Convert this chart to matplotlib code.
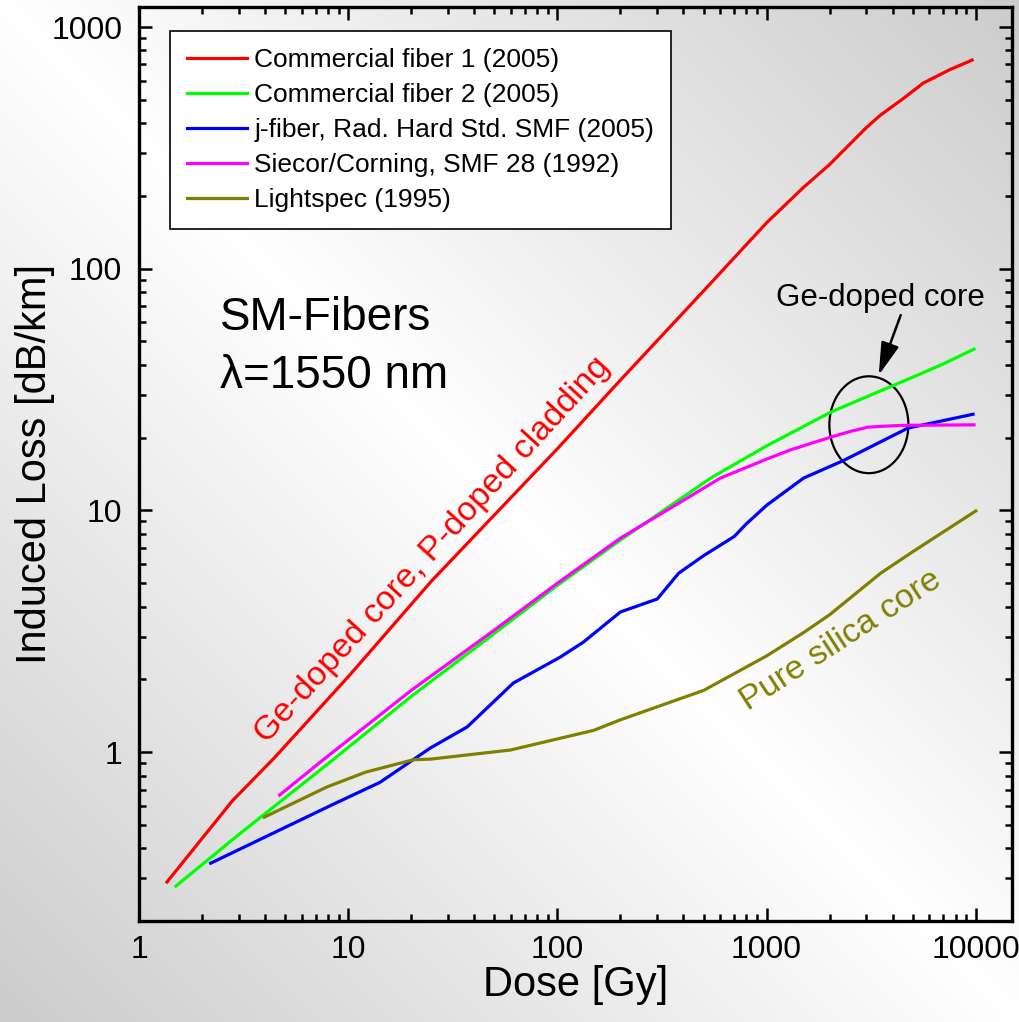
import numpy as np
import matplotlib
matplotlib.use('Agg')
import matplotlib.pyplot as plt
from matplotlib.patches import Ellipse
from matplotlib.ticker import LogLocator, NullFormatter

plt.rcParams['font.family'] = ['Liberation Sans', 'DejaVu Sans']

# data (dose in Gy, induced loss in dB/km)
red_x = [1.36, 2.8, 4.4, 10, 25, 100, 200, 500, 1000, 1500, 2000, 3000, 3500, 4500, 5600, 7500, 9600]
red_y = [0.29, 0.63, 0.94, 2.05, 5.1, 18, 34.6, 81, 155, 217, 270, 384, 432, 506, 586, 666, 730]

green_x = [1.5, 3, 8.2, 20, 50, 100, 200, 540, 1000, 2025, 3000, 5000, 7000, 9800]
green_y = [0.279, 0.456, 0.91, 1.7, 3.1, 4.9, 7.54, 13.6, 18.5, 25.5, 29.5, 35.6, 40.4, 46.5]

blue_x = [2.2, 8.2, 14.2, 24.7, 37, 61.5, 103, 133, 200, 300, 380, 500, 700, 800, 1000, 1500, 2335, 4730, 9700]
blue_y = [0.347, 0.6, 0.75, 1.04, 1.27, 1.93, 2.47, 2.85, 3.8, 4.3, 5.5, 6.5, 7.8, 8.8, 10.5, 13.6, 16.1, 21.9, 25]

magenta_x = [4.7, 7.6, 20, 50, 100, 200, 400, 600, 1000, 1300, 2025, 2500, 3040, 4000, 4730, 9800]
magenta_y = [0.664, 0.93, 1.8, 3.2, 5.0, 7.68, 11.0, 13.6, 16.3, 17.8, 20.1, 21.2, 22.1, 22.4, 22.5, 22.6]

olive_x = [3.97, 7.9, 12.1, 20.5, 24.7, 59.6, 149, 200, 500, 1000, 1500, 2000, 3510, 5000, 7000, 10000]
olive_y = [0.538, 0.717, 0.826, 0.93, 0.935, 1.02, 1.23, 1.36, 1.8, 2.5, 3.12, 3.7, 5.5, 6.75, 8.15, 9.95]

labels = ['Commercial fiber 1 (2005)', 'Commercial fiber 2 (2005)',
          'j-fiber, Rad. Hard Std. SMF (2005)', 'Siecor/Corning, SMF 28 (1992)',
          'Lightspec (1995)']
colors = ['#ff0000', '#00ff00', '#0000ff', '#ff00ff', '#808000']

fig = plt.figure(figsize=(10.2, 10.22), dpi=100)

# grey background, light along the main diagonal
W, H = 1020, 1022
xx, yy = np.meshgrid(np.arange(W), np.arange(H))
d = np.abs(xx - yy) / 1020.0
bg = 1 - 0.2 * d
fig.figimage(np.dstack([bg, bg, bg]), xo=0, yo=0, origin='upper', zorder=-10)

ax = fig.add_axes([0.1363, 0.0988, 0.8559, 0.8943])
ax.set_facecolor('none')

series = [(red_x, red_y), (green_x, green_y), (blue_x, blue_y), (magenta_x, magenta_y), (olive_x, olive_y)]
for (x, y), lab, c in zip(series, labels, colors):
    ax.plot(x, y, color=c, lw=2.3, label=lab, solid_joinstyle='round')

ax.set_xscale('log')
ax.set_yscale('log')
ax.set_xlim(1, 14900)
ax.set_ylim(0.2, 1210)

ax.set_xticks([1, 10, 100, 1000, 10000])
ax.set_xticklabels(['1', '10', '100', '1000', '10000'])
ax.set_yticks([1, 10, 100, 1000])
ax.set_yticklabels(['1', '10', '100', '1000'])
ax.xaxis.set_minor_locator(LogLocator(base=10, subs=np.arange(2, 10)))
ax.yaxis.set_minor_locator(LogLocator(base=10, subs=np.arange(2, 10)))
ax.xaxis.set_minor_formatter(NullFormatter())
ax.yaxis.set_minor_formatter(NullFormatter())
ax.tick_params(which='both', direction='in', top=True, right=True, width=1.8)
ax.tick_params(which='major', length=9.5, labelsize=23, pad=10)
ax.tick_params(which='minor', length=5)
ax.tick_params(axis='y', which='major', pad=12)
for s in ax.spines.values():
    s.set_linewidth(2.4)

ax.set_xlabel('Dose [Gy]', fontsize=30, labelpad=0)
ax.set_ylabel('Induced Loss [dB/km]', fontsize=30)
ax.yaxis.set_label_coords(-0.096, 0.5)

leg = ax.legend(loc='upper left', bbox_to_anchor=(0.0355, 0.974), borderaxespad=0,
                fontsize=19, frameon=True, fancybox=False, framealpha=1,
                edgecolor='black', handlelength=2.25, handletextpad=0.3,
                labelspacing=0.42, borderpad=0.65)
leg.get_frame().set_linewidth(1.2)

ax.text(0.0928, 0.66, 'SM-Fibers', fontsize=33, transform=ax.transAxes, va='center')
ax.text(0.0928, 0.596, 'λ=1550 nm', fontsize=33, transform=ax.transAxes, va='center')

ax.text(25.2, 6.85, 'Ge-doped core, P-doped cladding', color='#ff0000', fontsize=24.5,
        rotation=47.6, rotation_mode='anchor', ha='center', va='center')
ax.text(2260, 2.9, 'Pure silica core', color='#808000', fontsize=24.5,
        rotation=33, rotation_mode='anchor', ha='center', va='center')

ax.text(3510, 76, 'Ge-doped core', fontsize=22.5, ha='center', va='center')
ax.annotate('', xy=(3435, 36.3), xytext=(4375, 64.3),
            arrowprops=dict(arrowstyle='-|>,head_length=1.0,head_width=0.28',
                            color='black', lw=1.8, mutation_scale=20,
                            shrinkA=0, shrinkB=0))
ax.add_patch(Ellipse((0.836, 0.543), 0.0905, 0.106, transform=ax.transAxes,
                     fill=False, edgecolor='black', lw=1.6))

fig.savefig('out.png', dpi=100)
